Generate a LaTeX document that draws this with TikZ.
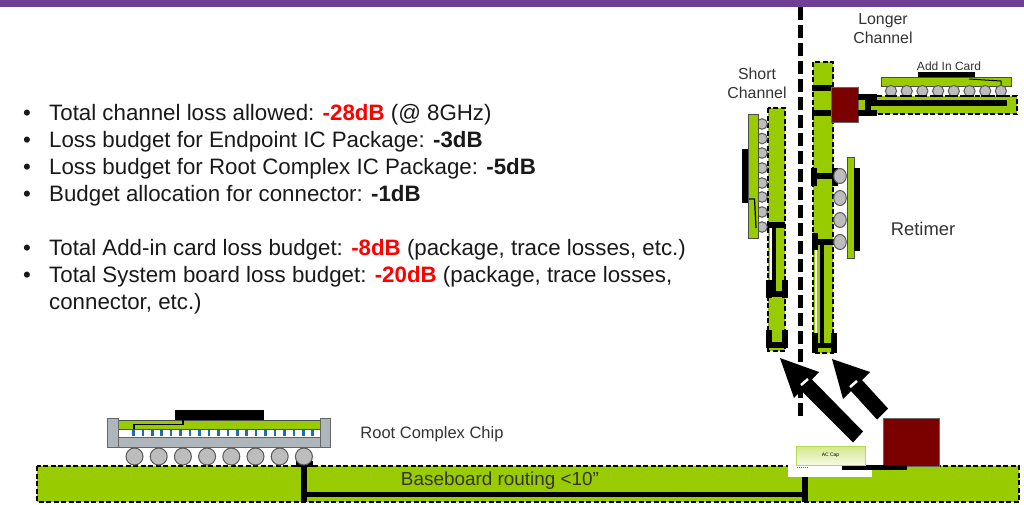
\documentclass[tikz,border=0pt]{standalone}
\usepackage{fontspec}
\setmainfont{Liberation Sans}
\definecolor{boardgreen}{HTML}{99CC00}
\definecolor{chipred}{HTML}{7B0000}
\definecolor{barpurple}{HTML}{6F3F93}
\definecolor{lidgray}{HTML}{AEB6BB}
\definecolor{ballgray}{HTML}{BDBDBD}
\definecolor{bumpblue}{HTML}{1F6FB0}
\definecolor{labelgray}{HTML}{333333}
\definecolor{alertred}{HTML}{FF0000}
\tikzset{
  board/.style={fill=boardgreen,draw=black,line width=1.8pt,dash pattern=on 5pt off 2.5pt},
  pkg/.style={fill=boardgreen,draw=black!70,line width=1pt},
  ball/.style={fill=ballgray,draw=black!65,line width=1pt},
  trace/.style={draw=black,line width=#1},
  trace/.default=5pt,
  bullettext/.style={anchor=base west,inner sep=0pt,font=\fontsize{22.3}{27}\selectfont,text=black!90},
  chiplabel/.style={align=center,inner sep=0pt,text=labelgray},
}
\newcommand{\lossval}[1]{\textbf{\textcolor{alertred}{#1}}}
\begin{document}
\begin{tikzpicture}[x=1pt,y=-1pt]
  \useasboundingbox (0,0) rectangle (1024,504);
  % Top bar
  \fill[barpurple] (0,0) rectangle (1024,7);
  % Text on the left
  \foreach \yLine in {113,140,167,194,248,275}{
    \node[bullettext] (dot\yLine) at (23,\yLine+7) {•};
  }
  \node[bullettext] (lossA) at (49,120) {Total channel loss allowed: \lossval{-28dB} (@ 8GHz)};
  \node[bullettext] (lossB) at (49,147) {Loss budget for Endpoint IC Package: \textbf{-3dB}};
  \node[bullettext] (lossC) at (49,174) {Loss budget for Root Complex IC Package: \textbf{-5dB}};
  \node[bullettext] (lossD) at (49,201) {Budget allocation for connector: \textbf{-1dB}};
  \node[bullettext] (lossE) at (49,255) {Total Add-in card loss budget: \lossval{-8dB} (package, trace losses, etc.)};
  \node[bullettext] (lossF) at (49,282) {Total System board loss budget: \lossval{-20dB} (package, trace losses,};
  \node[bullettext] (lossG) at (49,309) {connector, etc.)};
  % Baseboard
  \draw[board] (37,466) rectangle (1019,502);
  \draw[trace=6pt] (304,463) -- (304,502);
  \fill (296,461) rectangle (313,467);
  \draw[trace] (304,494) -- (805,494);
  \draw[trace=6pt] (805,477) -- (805,502);
  \node[inner sep=0pt,font=\fontsize{18.9}{22}\selectfont,text=labelgray] (routing) at (500,481) {Baseboard routing <10”};
  % Root complex package
  \fill[lidgray,draw=black!60,line width=1pt] (118,437) rectangle (320,447);
  \fill[white] (118,429) rectangle (320,437);
  \foreach \n in {0,...,19}{
    \fill[bumpblue] (133.3+\n*9.44-1.2,430) rectangle (133.3+\n*9.44+1.4,436);
  }
  \draw[pkg] (118,420) rectangle (320,429);
  \fill (175,410) rectangle (264,420);
  \draw[line width=1.3pt] (183,420) -- (183,424.5) -- (134,424.5) -- (134,429);
  \fill[lidgray,draw=black!60,line width=1pt] (107,418) rectangle (118,447);
  \fill[lidgray,draw=black!60,line width=1pt] (320,418) rectangle (330,447);
  \foreach \n in {0,...,7}{
    \draw[ball] (134.5+\n*24.2,456.5) circle (8.5);
  }
  \node[chiplabel,font=\fontsize{16.5}{20}\selectfont] (rootlabel) at (432,434) {Root Complex Chip};
  % Channel divider
  \draw[line width=5pt,dash pattern=on 13pt off 5pt] (800,7) -- (800,416);
  % Short channel card
  \draw[board] (768,108) rectangle (785,351);
  \fill[white] (770,228) rectangle (772,280);
  \draw[trace=6pt] (767,225) -- (785,225);
  \draw[trace=4pt] (773.5,225) -- (773.5,293);
  \draw[trace=6pt] (766,294) -- (787,294);
  \draw[trace=6pt] (768.5,280) -- (768.5,298);
  \draw[trace=6pt] (784.5,280) -- (784.5,298);
  \draw[trace=6pt] (767,345) -- (786,345);
  \draw[trace=6pt] (768.5,330) -- (768.5,348);
  \draw[trace=6pt] (784.5,330) -- (784.5,348);
  % Short channel package
  \fill[white] (758,114) rectangle (767,234);
  \foreach \yBall in {124,138.5,153,168,183,197,212,227}{
    \draw[ball] (762,\yBall) circle (5.3);
  }
  \draw[pkg] (748,114) rectangle (758,238);
  \fill (742,149) rectangle (748,203);
  \draw[line width=1.2pt] (749,199) -- (754.5,199) -- (756,228);
  % Longer channel card
  \draw[board] (813,62) rectangle (833,353);
  \fill[white] (815,250) rectangle (817,333);
  \draw[trace=6pt] (812,88) -- (832,88);
  \draw[trace=6pt] (812,113) -- (832,113);
  \draw[trace=6pt] (813,176) -- (836,176);
  \draw[trace=6pt] (813.5,168) -- (813.5,186);
  \draw[trace=6pt] (834.5,168) -- (834.5,186);
  \draw[trace=6pt] (814,242) -- (836,242);
  \draw[trace=6pt] (814.5,233) -- (814.5,250);
  \draw[trace=4pt] (822,242) -- (822,343);
  \draw[trace=5pt] (815,345) -- (834,345);
  \draw[trace=6pt] (815,333) -- (815,353);
  \draw[trace=6pt] (834,333) -- (834,353);
  % Retimer package
  \foreach \yBall in {176,198,220,242}{
    \draw[ball] (840,\yBall) ellipse (6.3 and 7.5);
  }
  \draw[pkg] (847,157) rectangle (854,258);
  \fill (854,168) rectangle (860,251);
  \node[chiplabel,font=\fontsize{18.4}{22}\selectfont] (retimerlabel) at (923,229) {Retimer};
  % Add in card
  \draw[board] (858,96) rectangle (1017,114);
  \fill[chipred,draw=black!60,line width=0.7pt] (831,87) rectangle (858,122);
  \draw[trace=6pt] (858,97) -- (877,97);
  \draw[trace=6pt] (858,113) -- (877,113);
  \draw[trace=6pt] (868,97) -- (868,113);
  \draw[trace=6pt] (868,103) -- (1007,103);
  \draw[pkg] (881,77) rectangle (1011,86);
  \fill (918,72) rectangle (975,77);
  \draw[line width=1pt] (969,79) -- (1001,81) -- (1001,86);
  \foreach \n in {0,...,7}{
    \draw[ball] (891+\n*15.7,91) circle (5.6);
    \draw[line width=2pt] (891+\n*15.7-4.5,96) -- (891+\n*15.7+4.5,96);
  }
  \node[chiplabel,font=\fontsize{12}{14}\selectfont] (addinlabel) at (949,66.5) {Add In Card};
  % Channel labels
  \node[chiplabel,font=\fontsize{15.9}{19}\selectfont] (longerlabel) at (883,29) {Longer\\Channel};
  \node[chiplabel,font=\fontsize{15.9}{19}\selectfont] (shortlabel) at (757,83) {Short\\Channel};
  % Block arrows
  \fill (780,358) -- (819,372) -- (812,379.5) -- (863,431.5) -- (853,442.5) -- (801,390.5) -- (794,398) -- cycle;
  \fill (832,359) -- (870,372) -- (862,380) -- (888,408.5) -- (877,419.5) -- (851,391) -- (843,399) -- cycle;
  \draw[white,line width=2.5pt] (801,385) -- (808,379);
  \draw[white,line width=2.5pt] (850,387) -- (857,381);
  % Retimer on the baseboard
  \fill[white] (788,465) rectangle (872,477);
  \draw[black!60,line width=1pt,dash pattern=on 1pt off 1pt] (797,467) -- (808,467);
  \fill[chipred,draw=black!60,line width=0.7pt] (883,418) rectangle (939,466);
  \fill (842,465) rectangle (907,470);
  \node[draw=boardgreen!70,line width=1pt,top color=boardgreen!45,bottom color=boardgreen!10,minimum width=69pt,minimum height=19pt,inner sep=0pt,font=\fontsize{5}{6}\selectfont] (accap) at (830.5,455.5) {AC Cap};
\end{tikzpicture}
\end{document}
